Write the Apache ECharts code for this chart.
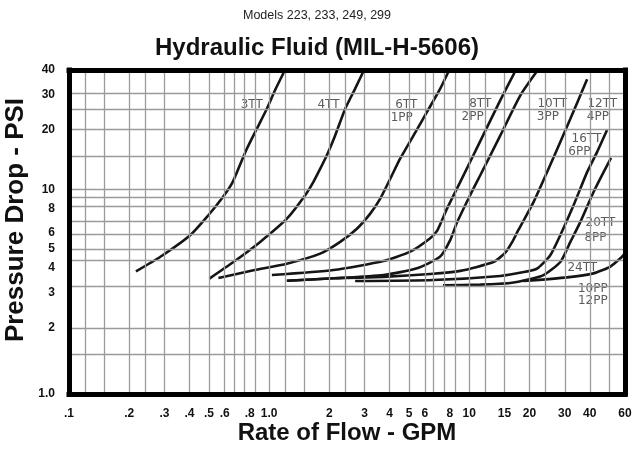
<!DOCTYPE html>
<html>
<head>
<meta charset="utf-8">
<script src="https://cdn.jsdelivr.net/npm/echarts/dist/echarts.min.js"></script>
<style>
html,body{margin:0;padding:0;background:#fff;}
#chart{width:634px;height:452px;}
</style>
</head>
<body>
<div id="chart"></div>
<script>
// ---- axis ticks / labels ----
const xMin = 0.1, xMax = 60;
const yMin = 0.925, yMax = 40;
const xLabelValues = [0.1,0.2,0.3,0.4,0.5,0.6,0.8,1,2,3,4,5,6,8,10,15,20,30,40,60];
const yLabelValues = [yMin,2,3,4,5,6,8,10,20,30,40];
const xGridValues = [0.12,0.15,0.2,0.24,0.3,0.4,0.5,0.6,0.67,0.75,0.85,1,1.2,1.5,2,2.4,3,4,5,6,6.6,7.5,8.5,10,12,15,20,24,30,40,50];
const yGridValues = [1.46,1.99,3.25,4.36,5,5.93,6.92,8.17,9.07,10,14.7,20,25.2,30.5];

// ---- curves: [flow GPM, pressure drop PSI] ----
const curve3TT = [[0.216,3.85],[0.285,4.55],[0.403,5.86],[0.497,7.39],[0.58,8.97],[0.651,10.67],[0.702,12.7],[0.774,16.0],[0.868,20.2],[0.974,25.5],[1.07,31.6],[1.2,40]];
const curve4TT = [[0.503,3.54],[0.663,4.29],[0.902,5.42],[1.226,7.10],[1.514,9.33],[1.665,10.9],[1.80,12.7],[1.943,14.85],[2.138,18.7],[2.40,25.5],[2.69,32.2],[2.98,40]];
const curve6TT = [[0.558,3.56],[0.835,3.90],[1.226,4.21],[1.80,4.73],[2.265,5.42],[2.745,6.32],[3.20,7.53],[3.59,8.97],[4.03,11.3],[4.52,14.3],[5.27,18.7],[6.14,24.5],[7.16,32.2],[7.94,40]];
const curve8TT = [[1.032,3.69],[2.096,3.91],[3.73,4.34],[5.07,4.84],[6.38,5.66],[6.90,6.16],[7.74,7.98],[9.02,10.9],[11.35,17.5],[14.3,28.2],[17.1,40]];
const curve10TT = [[1.226,3.45],[2.096,3.55],[3.73,3.69],[5.48,3.99],[7.16,4.57],[8.04,5.55],[8.68,6.79],[10.1,9.33],[11.35,11.77],[14.3,18.7],[18.0,29.8],[22.0,40]];
const curve12TT = [[1.226,3.45],[2.096,3.55],[3.73,3.61],[6.38,3.73],[9.02,3.87],[13.2,4.29],[15.1,4.77],[16.4,5.42],[17.6,6.23],[20.97,8.63],[26.4,14.5],[32.0,22.7],[38.8,35.9]];
const curve16TT = [[2.69,3.44],[6.61,3.48],[14.3,3.65],[19.05,3.83],[21.8,3.97],[25.4,4.64],[28.5,5.86],[33.2,8.30],[38.8,12.2],[43.5,15.4],[48.8,19.9]];
const curve20TT = [[7.39,3.27],[11.35,3.30],[16.0,3.36],[20.2,3.52],[23.5,3.68],[28.5,4.29],[32.0,5.42],[35.9,6.84],[41.8,9.69],[46.9,12.2],[51.1,14.4]];
const curve24TT = [[18.6,3.44],[30.8,3.59],[41.8,3.76],[50.7,4.07],[56.9,4.48],[60,4.75]];

// ---- curve labels ----
const labelText = ['3TT','4TT','6TT','1PP','8TT','2PP','10TT','3PP','12TT','4PP','16TT','6PP','20TT','8PP','24TT','10PP','12PP'];
const labelFlow = [0.818,1.98,4.84,4.60,11.35,10.4,26.0,24.7,46.2,43.9,38.5,35.5,45.2,42.7,36.7,41.4,41.4];
const labelDrop = [26.8,26.8,26.8,22.9,27.0,23.2,27.0,23.2,27.0,23.2,17.95,15.4,6.76,5.68,4.03,3.14,2.73];

const curves = [curve3TT,curve4TT,curve6TT,curve8TT,curve10TT,curve12TT,curve16TT,curve20TT,curve24TT];
const curveNames = ['3TT','4TT','6TT/1PP','8TT/2PP','10TT/3PP','12TT/4PP','16TT/6PP','20TT/8PP','24TT/10PP/12PP'];

const FONT = '"Liberation Sans", Arial, Helvetica, sans-serif';

function fmtX(v){
  if (Math.abs(v-1) < 1e-9) return '1.0';
  if (v < 1) return '.' + Math.round(v*10);
  return String(Math.round(v));
}
function fmtY(v){
  if (v < 1.5) return '1.0';
  return String(Math.round(v));
}

const chart = echarts.init(document.getElementById('chart'), null, {renderer:'canvas'});

const borderLine = {show:true, lineStyle:{color:'#000', width:5, cap:'square'}};

const series = [];
// grid lines
series.push({
  type:'line', name:'grid', data:[], z:1, silent:true,
  markLine:{
    silent:true, symbol:['none','none'], animation:false,
    label:{show:false},
    lineStyle:{color:'#9a9a9a', width:1.3, type:'solid'},
    emphasis:{disabled:true},
    data: xGridValues.map(v => ({xAxis:v})).concat(yGridValues.map(v => ({yAxis:v})))
  }
});
curves.forEach((c,i) => {
  series.push({
    type:'line', name:curveNames[i], data:c, showSymbol:false, symbol:'none',
    smooth:0.2, z:3, silent:true,
    lineStyle:{color:'#151515', width:2.6}
  });
});
series.push({
  type:'scatter', name:'labels', symbolSize:0, z:4, silent:true,
  data: labelText.map((t,i) => ({name:t, value:[labelFlow[i], labelDrop[i]]})),
  label:{show:true, position:'inside', formatter:p => p.name,
    fontFamily:'"DejaVu Sans", sans-serif', fontSize:12, color:'#333'}
});

chart.setOption({
  animation:false,
  backgroundColor:'#fff',
  title:[
    {text:'Models 223, 233, 249, 299', left:'center', top:4,
     textStyle:{fontFamily:FONT, fontSize:12.5, fontWeight:'normal', color:'#222'}},
    {text:'Hydraulic Fluid (MIL-H-5606)', left:'center', top:31,
     textStyle:{fontFamily:FONT, fontSize:24, fontWeight:'bold', color:'#111'}}
  ],
  grid:{left:69, right:9, top:70, bottom:58, containLabel:false, outerBoundsMode:'none'},
  xAxis:[
    {type:'log', logBase:10, min:xMin, max:xMax, z:10,
     name:'Rate of Flow - GPM', nameLocation:'middle', nameGap:27, nameMoveOverlap:false,
     nameTextStyle:{fontFamily:FONT, fontSize:24, fontWeight:'bold', color:'#111'},
     axisLine:borderLine, axisTick:{show:false}, splitLine:{show:false}, minorSplitLine:{show:false},
     axisLabel:{customValues:xLabelValues, formatter:fmtX, margin:14,
       fontFamily:FONT, fontSize:12, fontWeight:'bold', color:'#111'}},
    {type:'value', position:'top', min:0, max:1, z:10,
     axisLine:borderLine, axisTick:{show:false}, axisLabel:{show:false}, splitLine:{show:false}}
  ],
  yAxis:[
    {type:'log', logBase:10, min:yMin, max:yMax, z:10,
     name:'Pressure Drop - PSI', nameLocation:'middle', nameGap:40, nameMoveOverlap:false,
     nameTextStyle:{fontFamily:FONT, fontSize:26, fontWeight:'bold', color:'#111', padding:[0,0,0,24]},
     axisLine:borderLine, axisTick:{show:false}, splitLine:{show:false}, minorSplitLine:{show:false},
     axisLabel:{customValues:yLabelValues, formatter:fmtY, margin:14,
       fontFamily:FONT, fontSize:12, fontWeight:'bold', color:'#111'}},
    {type:'value', position:'right', min:0, max:1, z:10,
     axisLine:borderLine, axisTick:{show:false}, axisLabel:{show:false}, splitLine:{show:false}}
  ],
  series: series
});
</script>
</body>
</html>
